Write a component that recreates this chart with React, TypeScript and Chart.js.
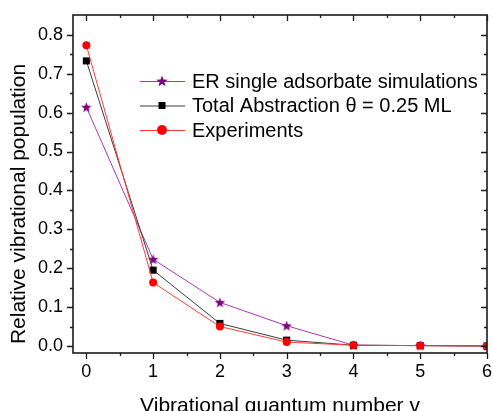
import React, { useEffect, useRef } from "react";
import { Chart, registerables } from "chart.js";

Chart.register(...registerables);

// ---- data ----
const vibLevels = [0, 1, 2, 3, 4, 5, 6];
const erSingle = [0.614, 0.223, 0.112, 0.052, 0.002, 0.001, 0.0];
const totalAbstraction = [0.733, 0.195, 0.058, 0.015, 0.002, 0.001, 0.0];
const experiments = [0.773, 0.163, 0.05, 0.01, 0.002, 0.001, 0.0];
const seriesNames = [
  "ER single adsorbate simulations",
  "Total Abstraction \u03b8 = 0.25 ML",
  "Experiments",
];
const xTitle = "Vibrational quantum number v";
const yTitle = "Relative vibrational population";

const FONT = "'Liberation Sans', Arial, Helvetica, sans-serif";
const PURPLE = "#800080";
const PURPLE_LINE = "#a838b8";
const BLACK = "#000000";
const BLACK_LINE = "#3a3a3a";
const RED = "#ff0000";
const RED_LINE = "#ff3b3b";

function makeStar(size: number, color: string): HTMLCanvasElement {
  const c = document.createElement("canvas");
  c.width = size;
  c.height = size;
  const ctx = c.getContext("2d")!;
  const cx = size / 2;
  const cy = size / 2 + size * 0.04;
  const R = size / 2;
  const r = R * 0.42;
  ctx.beginPath();
  for (let i = 0; i < 10; i++) {
    const rad = i % 2 === 0 ? R : r;
    const a = -Math.PI / 2 + (i * Math.PI) / 5;
    const px = cx + rad * Math.cos(a);
    const py = cy + rad * Math.sin(a);
    if (i === 0) ctx.moveTo(px, py);
    else ctx.lineTo(px, py);
  }
  ctx.closePath();
  ctx.fillStyle = color;
  ctx.fill();
  return c;
}

const framePlugin = {
  id: "frameAndLegend",
  afterDraw(chart: any) {
    const { ctx, chartArea: a, scales } = chart;
    const x = scales.x;
    const y = scales.y;
    ctx.save();
    // frame
    ctx.strokeStyle = "#1a1a1a";
    ctx.lineWidth = 1.6;
    ctx.strokeRect(a.left, a.top, a.right - a.left, a.bottom - a.top);
    // y ticks (0.05 minor, 0.1 major)
    ctx.lineWidth = 1.3;
    ctx.beginPath();
    for (let i = 0; i <= 16; i++) {
      const py = Math.round(y.getPixelForValue(i * 0.05)) + 0.5;
      const len = i % 2 === 0 ? 6 : 3;
      ctx.moveTo(a.left, py);
      ctx.lineTo(a.left - len, py);
      ctx.moveTo(a.right, py);
      ctx.lineTo(a.right - len, py);
    }
    // x ticks (0.5 minor, 1 major)
    for (let i = 0; i <= 12; i++) {
      const px = Math.round(x.getPixelForValue(i * 0.5)) + 0.5;
      const len = i % 2 === 0 ? 6 : 3;
      ctx.moveTo(px, a.bottom);
      ctx.lineTo(px, a.bottom + len);
      ctx.moveTo(px, a.top);
      ctx.lineTo(px, a.top + len);
    }
    ctx.stroke();

    // legend
    const lx0 = 140;
    const lx1 = 185;
    const mx = 162;
    const tx = 192;
    const rowY0 = 81;
    const rowGap = 24.5;
    const lineCols = [PURPLE_LINE, BLACK_LINE, RED_LINE];
    ctx.font = `20px ${FONT}`;
    ctx.textBaseline = "middle";
    ctx.textAlign = "left";
    for (let i = 0; i < 3; i++) {
      const ry = rowY0 + i * rowGap;
      ctx.strokeStyle = lineCols[i];
      ctx.lineWidth = 1;
      ctx.beginPath();
      ctx.moveTo(lx0, ry + 0.5);
      ctx.lineTo(lx1, ry + 0.5);
      ctx.stroke();
      if (i === 0) {
        const s = makeStar(12, PURPLE);
        ctx.drawImage(s, mx - 6, ry - 6);
      } else if (i === 1) {
        ctx.fillStyle = BLACK;
        ctx.fillRect(mx - 3.5, ry - 3.5, 7, 7);
      } else {
        ctx.fillStyle = RED;
        ctx.beginPath();
        ctx.arc(mx, ry, 5, 0, Math.PI * 2);
        ctx.fill();
      }
      ctx.fillStyle = "#000";
      ctx.fillText(seriesNames[i], tx, ry + 1);
    }

    // axis titles
    ctx.fillStyle = "#000";
    ctx.font = `21px ${FONT}`;
    ctx.textAlign = "center";
    ctx.textBaseline = "alphabetic";
    ctx.fillText(xTitle, (a.left + a.right) / 2, 411.5);
    ctx.save();
    ctx.translate(25, 204);
    ctx.rotate(-Math.PI / 2);
    ctx.fillText(yTitle, 0, 0);
    ctx.restore();

    ctx.restore();
  },
};

export default function App() {
  const ref = useRef<HTMLCanvasElement | null>(null);
  useEffect(() => {
    if (!ref.current) return;
    const star = makeStar(11, PURPLE);
    const chart = new Chart(ref.current, {
      type: "line",
      data: {
        labels: vibLevels,
        datasets: [
          {
            label: seriesNames[0],
            data: vibLevels.map((v, i) => ({ x: v, y: erSingle[i] })),
            borderColor: PURPLE_LINE,
            backgroundColor: PURPLE,
            borderWidth: 1,
            pointStyle: star as any,
            pointRadius: 5,
            order: 2,
          },
          {
            label: seriesNames[1],
            data: vibLevels.map((v, i) => ({ x: v, y: totalAbstraction[i] })),
            borderColor: BLACK_LINE,
            backgroundColor: BLACK,
            pointBorderColor: BLACK,
            borderWidth: 1,
            pointStyle: "rect",
            pointRadius: 5,
            pointBorderWidth: 0,
            order: 1,
          },
          {
            label: seriesNames[2],
            data: vibLevels.map((v, i) => ({ x: v, y: experiments[i] })),
            borderColor: RED_LINE,
            backgroundColor: RED,
            pointBorderColor: RED,
            borderWidth: 1,
            pointStyle: "circle",
            pointRadius: 4,
            pointBorderWidth: 0,
            order: 0,
          },
        ],
      },
      options: {
        animation: false,
        responsive: false,
        events: [],
        layout: { padding: { top: 15, right: 4, left: 0, bottom: 0 } },
        plugins: { legend: { display: false }, tooltip: { enabled: false } },
        scales: {
          x: {
            type: "linear",
            min: -0.2,
            max: 6,
            grid: { display: false, drawTicks: false },
            border: { display: false },
            ticks: {
              stepSize: 1,
              includeBounds: false,
              padding: 8,
              color: "#000",
              font: { size: 18, family: FONT },
              callback: (v: any) => String(v),
            },
            afterFit: (s: any) => {
              s.height = 58;
              s.paddingLeft = 0;
              s.paddingRight = 0;
            },
          },
          y: {
            type: "linear",
            min: -0.018,
            max: 0.851,
            grid: { display: false, drawTicks: false },
            border: { display: false },
            ticks: {
              stepSize: 0.1,
              includeBounds: false,
              padding: 10,
              color: "#000",
              font: { size: 18, family: FONT },
              callback: (v: any) => Number(v).toFixed(1),
            },
            afterFit: (s: any) => {
              s.width = 73;
              s.paddingTop = 0;
              s.paddingBottom = 0;
            },
          },
        },
      },
      plugins: [framePlugin],
    });
    return () => chart.destroy();
  }, []);
  return (
    <canvas
      ref={ref}
      width={493}
      height={411}
      style={{ position: "fixed", left: 0, top: 0, display: "block" }}
    />
  );
}
